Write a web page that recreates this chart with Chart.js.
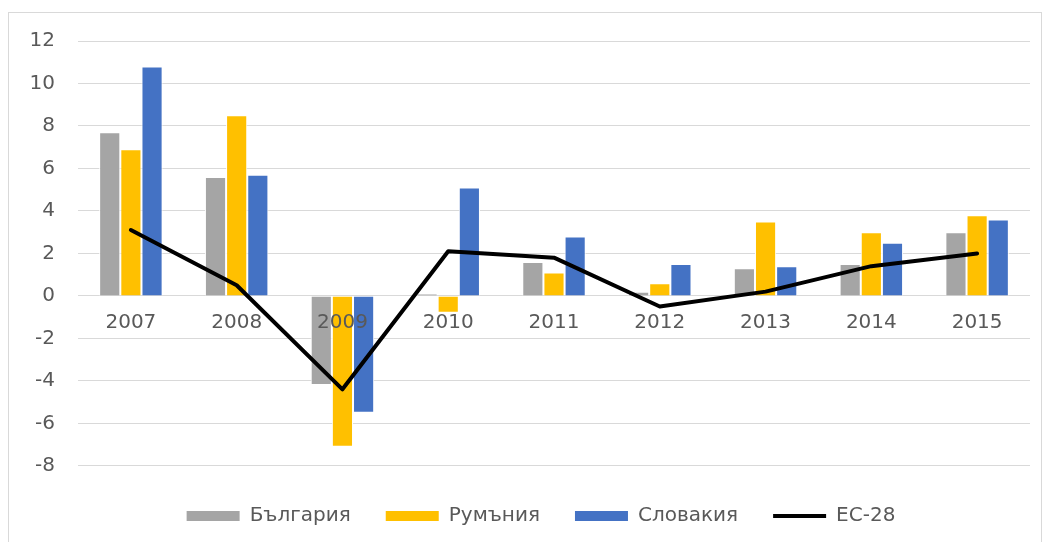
<!DOCTYPE html>
<html>
<head>
<meta charset="utf-8">
<script src="https://cdn.jsdelivr.net/npm/chart.js@4"></script>
<style>
  body { margin: 0; background: #fff; }
  #frame { position: absolute; left: 8px; top: 12px; width: 1032px; height: 540px; border: 1px solid #d9d9d9; }
  #wrap { position: absolute; left: 0; top: 0; width: 1047px; height: 542px; }
</style>
</head>
<body>
<div id="frame"></div>
<div id="wrap"><canvas id="chart"></canvas></div>
<script>
// Données
const years = ['2007', '2008', '2009', '2010', '2011', '2012', '2013', '2014', '2015'];
const bulgaria = [7.7, 5.6, -4.2, 0.1, 1.6, 0.2, 1.3, 1.5, 3.0];
const romania = [6.9, 8.5, -7.1, -0.8, 1.1, 0.6, 3.5, 3.0, 3.8];
const slovakia = [10.8, 5.7, -5.5, 5.1, 2.8, 1.5, 1.4, 2.5, 3.6];
const eu28 = [3.1, 0.5, -4.4, 2.1, 1.8, -0.5, 0.2, 1.4, 2.0];
const yTicks = [12, 10, 8, 6, 4, 2, 0, -2, -4, -6, -8];

const textColor = '#595959';
const fontFamily = '"DejaVu Sans", sans-serif';

function barSet(label, data, color) {
    return {
        label: label,
        data: data,
        backgroundColor: color,
        borderColor: '#ffffff',
        borderWidth: 1,
        categoryPercentage: 0.6,
        barPercentage: 1,
        order: 1
    };
}

// décale la légende un peu vers la droite, comme dans l'original
const shiftLegend = {
    id: 'shiftLegend',
    afterLayout(chart) {
        chart.legend.left += 26;
        chart.legend.right += 26;
    }
};

new Chart(document.getElementById('chart'), {
    type: 'bar',
    data: {
        labels: years,
        datasets: [
            barSet('България', bulgaria, '#A5A5A5'),
            barSet('Румъния', romania, '#FFC000'),
            barSet('Словакия', slovakia, '#4472C4'),
            {
                type: 'line',
                label: 'ЕС-28',
                data: eu28,
                borderColor: '#000000',
                backgroundColor: '#000000',
                borderWidth: 4,
                borderCapStyle: 'round',
                borderJoinStyle: 'round',
                pointRadius: 0,
                tension: 0,
                order: 0
            }
        ]
    },
    options: {
        responsive: true,
        maintainAspectRatio: false,
        animation: false,
        layout: { padding: { top: 41, right: 17, left: 0, bottom: 6 } },
        plugins: {
            tooltip: { enabled: false },
            legend: {
                position: 'bottom',
                // titre vide : décale les entrées vers le bas
                title: { display: true, text: ' ', font: { size: 1 }, padding: { top: 2, bottom: 2 } },
                labels: {
                    usePointStyle: true,
                    pointStyleWidth: 53,
                    boxHeight: 10,
                    padding: 35,
                    color: textColor,
                    font: { family: fontFamily, size: 20 },
                    sort: (a, b) => a.datasetIndex - b.datasetIndex,
                    generateLabels: (chart) => {
                        const items = Chart.defaults.plugins.legend.labels.generateLabels(chart);
                        items.forEach(item => {
                            if (item.datasetIndex === 3) {
                                item.pointStyle = 'line';
                                item.lineWidth = 4;
                                item.strokeStyle = '#000000';
                            } else {
                                item.pointStyle = 'rect';
                                item.lineWidth = 0;
                            }
                        });
                        return items;
                    }
                }
            }
        },
        scales: {
            x: {
                position: { y: 0 },
                z: 1,
                grid: { display: false, drawTicks: false },
                border: { display: false },
                ticks: {
                    z: 1,
                    color: textColor,
                    padding: 15,
                    font: { family: fontFamily, size: 20 }
                }
            },
            y: {
                min: -8,
                max: 12,
                afterFit: (scale) => { scale.width = 78; },
                afterBuildTicks: (scale) => { scale.ticks = yTicks.map(v => ({ value: v })); },
                grid: { color: '#d9d9d9', drawTicks: false, lineWidth: 1 },
                border: { display: false },
                ticks: {
                    color: textColor,
                    padding: 23,
                    font: { family: fontFamily, size: 20 }
                }
            }
        }
    },
    plugins: [shiftLegend]
});
</script>
</body>
</html>
